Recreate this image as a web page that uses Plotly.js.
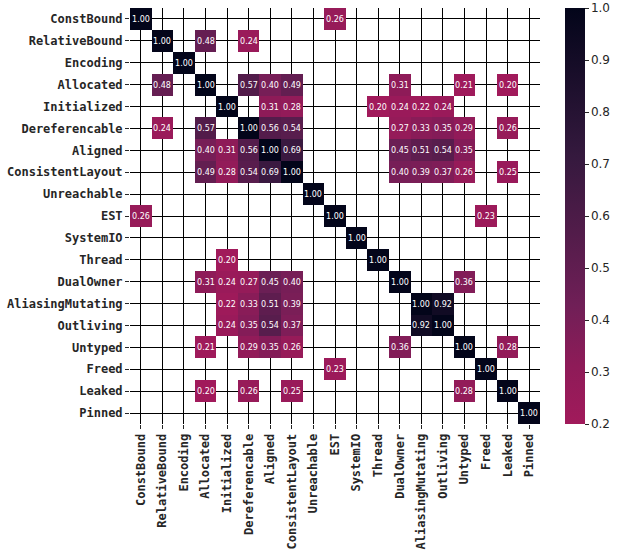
<!DOCTYPE html>
<html><head><meta charset="utf-8">
<script src="https://cdn.plot.ly/plotly-3.0.1.min.js"></script>
<style>body{margin:0;padding:0;background:#fff}#chart{width:619px;height:550px}</style>
</head><body><div id="chart"></div>
<script>
const labels = ["ConstBound","RelativeBound","Encoding","Allocated","Initialized","Dereferencable","Aligned","ConsistentLayout","Unreachable","EST","SystemIO","Thread","DualOwner","AliasingMutating","Outliving","Untyped","Freed","Leaked","Pinned"];
const N = null;
const rowConstBound       = [1.00,N,N,N,N,N,N,N,N,0.26,N,N,N,N,N,N,N,N,N];
const rowRelativeBound    = [N,1.00,N,0.48,N,0.24,N,N,N,N,N,N,N,N,N,N,N,N,N];
const rowEncoding         = [N,N,1.00,N,N,N,N,N,N,N,N,N,N,N,N,N,N,N,N];
const rowAllocated        = [N,0.48,N,1.00,N,0.57,0.40,0.49,N,N,N,N,0.31,N,N,0.21,N,0.20,N];
const rowInitialized      = [N,N,N,N,1.00,N,0.31,0.28,N,N,N,0.20,0.24,0.22,0.24,N,N,N,N];
const rowDereferencable   = [N,0.24,N,0.57,N,1.00,0.56,0.54,N,N,N,N,0.27,0.33,0.35,0.29,N,0.26,N];
const rowAligned          = [N,N,N,0.40,0.31,0.56,1.00,0.69,N,N,N,N,0.45,0.51,0.54,0.35,N,N,N];
const rowConsistentLayout = [N,N,N,0.49,0.28,0.54,0.69,1.00,N,N,N,N,0.40,0.39,0.37,0.26,N,0.25,N];
const rowUnreachable      = [N,N,N,N,N,N,N,N,1.00,N,N,N,N,N,N,N,N,N,N];
const rowEST              = [0.26,N,N,N,N,N,N,N,N,1.00,N,N,N,N,N,N,0.23,N,N];
const rowSystemIO         = [N,N,N,N,N,N,N,N,N,N,1.00,N,N,N,N,N,N,N,N];
const rowThread           = [N,N,N,N,0.20,N,N,N,N,N,N,1.00,N,N,N,N,N,N,N];
const rowDualOwner        = [N,N,N,0.31,0.24,0.27,0.45,0.40,N,N,N,N,1.00,N,N,0.36,N,N,N];
const rowAliasingMutating = [N,N,N,N,0.22,0.33,0.51,0.39,N,N,N,N,N,1.00,0.92,N,N,N,N];
const rowOutliving        = [N,N,N,N,0.24,0.35,0.54,0.37,N,N,N,N,N,0.92,1.00,N,N,N,N];
const rowUntyped          = [N,N,N,0.21,N,0.29,0.35,0.26,N,N,N,N,0.36,N,N,1.00,N,0.28,N];
const rowFreed            = [N,N,N,N,N,N,N,N,N,0.23,N,N,N,N,N,N,1.00,N,N];
const rowLeaked           = [N,N,N,0.20,N,0.26,N,0.25,N,N,N,N,N,N,N,0.28,N,1.00,N];
const rowPinned           = [N,N,N,N,N,N,N,N,N,N,N,N,N,N,N,N,N,N,1.00];
const z = [rowConstBound,rowRelativeBound,rowEncoding,rowAllocated,rowInitialized,rowDereferencable,rowAligned,rowConsistentLayout,rowUnreachable,rowEST,rowSystemIO,rowThread,rowDualOwner,rowAliasingMutating,rowOutliving,rowUntyped,rowFreed,rowLeaked,rowPinned];
const textVals = z.map(r => r.map(v => v === null ? "" : v.toFixed(2)));

const colorscale = [
  [0.0, "#a11a5b"],
  [0.14, "#8e1b58"],
  [0.285, "#701f57"],
  [0.46, "#521c4a"],
  [0.6425, "#35193e"],
  [0.82, "#1c0f2c"],
  [1.0, "#03051a"]
];

const tickFont = {family: "DejaVu Sans Mono", size: 12, weight: "bold", color: "#262626"};
const trace = {
  type: "heatmap", x: labels, y: labels, z: z,
  zmin: 0.2, zmax: 1.0, colorscale: colorscale,
  text: textVals, texttemplate: "%{text}",
  textfont: {family: "DejaVu Sans", size: 8, color: "#ffffff"},
  hoverongaps: false,
  colorbar: {
    x: 1.062, xanchor: "left", xpad: 0, ypad: 0, y: 0.5, yanchor: "middle", len: 1,
    thickness: 20, outlinewidth: 0, ticks: "outside", ticklen: 4, tickcolor: "#262626",
    tickvals: [0.2,0.3,0.4,0.5,0.6,0.7,0.8,0.9,1.0],
    ticktext: ["0.2","0.3","0.4","0.5","0.6","0.7","0.8","0.9","1.0"],
    tickfont: {family: "DejaVu Sans", size: 12, color: "#262626"}
  }
};
const layout = {
  width: 619, height: 550,
  margin: {l: 130, r: 72, t: 8, b: 126},
  paper_bgcolor: "#fff", plot_bgcolor: "#fff",
  xaxis: {type: "category", showgrid: true, gridcolor: "#000", gridwidth: 1, ticks: "outside", ticklen: 4, tickcolor: "#262626",
          tickangle: -90, tickfont: tickFont, showline: false, zeroline: false, fixedrange: true},
  yaxis: {type: "category", autorange: "reversed", showgrid: true, gridcolor: "#000", gridwidth: 1, ticks: "outside", ticklen: 4, tickcolor: "#262626",
          tickfont: tickFont, showline: false, zeroline: false, fixedrange: true},
  showlegend: false
};
Plotly.newPlot("chart", [trace], layout, {displayModeBar: false, staticPlot: true});
</script></body></html>
